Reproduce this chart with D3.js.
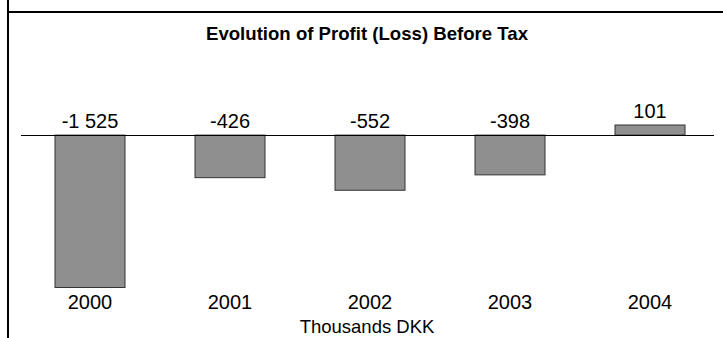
<!DOCTYPE html>
<html>
<head>
<meta charset="utf-8">
<script src="https://cdn.jsdelivr.net/npm/d3@7"></script>
<style>
  html, body { margin: 0; padding: 0; background: #fff; }
  svg { display: block; font-family: "Liberation Sans", Arial, sans-serif; }
</style>
</head>
<body>
<svg id="chart" width="723" height="338"></svg>
<script>
// Profit (loss) before tax, thousands DKK
const years = ["2000", "2001", "2002", "2003", "2004"];
const profit = [-1525, -426, -552, -398, 101];
const valueLabels = ["-1 525", "-426", "-552", "-398", "101"];

const svg = d3.select("#chart");
const W = 723, H = 338;

// Frame: left rule and top rule
svg.append("line").attr("x1", 8).attr("x2", 8).attr("y1", 0).attr("y2", H)
  .attr("stroke", "#000").attr("stroke-width", 2);
svg.append("line").attr("x1", 7).attr("x2", W).attr("y1", 12).attr("y2", 12)
  .attr("stroke", "#000").attr("stroke-width", 2);

svg.append("text")
  .attr("x", 367).attr("y", 40)
  .attr("text-anchor", "middle")
  .attr("font-weight", "bold").attr("font-size", 18.6)
  .text("Evolution of Profit (Loss) Before Tax");

const x = d3.scaleBand().domain(years).range([20, 720]).paddingInner(0.5).paddingOuter(0.25);
const y = d3.scaleLinear().domain([-1525, 101]).range([287.5, 125]);

const data = years.map((yr, i) => ({ year: yr, value: profit[i], label: valueLabels[i] }));

svg.append("g").selectAll("rect").data(data).join("rect")
  .attr("x", d => x(d.year))
  .attr("width", x.bandwidth())
  .attr("y", d => y(Math.max(0, d.value)))
  .attr("height", d => Math.abs(y(d.value) - y(0)))
  .attr("fill", "#8f8f8f")
  .attr("stroke", "#333")
  .attr("stroke-width", 1);

// Zero line
svg.append("line")
  .attr("x1", 21).attr("x2", 714)
  .attr("y1", Math.round(y(0)) + 0.5).attr("y2", Math.round(y(0)) + 0.5)
  .attr("stroke", "#000").attr("stroke-width", 1);

// Value labels above each bar
svg.append("g").selectAll("text").data(data).join("text")
  .attr("x", d => x(d.year) + x.bandwidth() / 2)
  .attr("y", d => y(Math.max(0, d.value)) - 7)
  .attr("text-anchor", "middle")
  .attr("font-size", 20)
  .attr("fill", "#000")
  .text(d => d.label);

// Category axis labels
const axis = d3.axisBottom(x).tickSize(0).tickPadding(0);
const gx = svg.append("g").attr("transform", "translate(0,295)").call(axis);
gx.select(".domain").remove();
gx.selectAll("text").attr("font-size", 20).attr("font-family", "Liberation Sans, Arial, sans-serif")
  .attr("fill", "#000").attr("dy", "0.71em");

svg.append("text")
  .attr("x", 367).attr("y", 333)
  .attr("text-anchor", "middle")
  .attr("font-size", 18.5)
  .text("Thousands DKK");
</script>
</body>
</html>
